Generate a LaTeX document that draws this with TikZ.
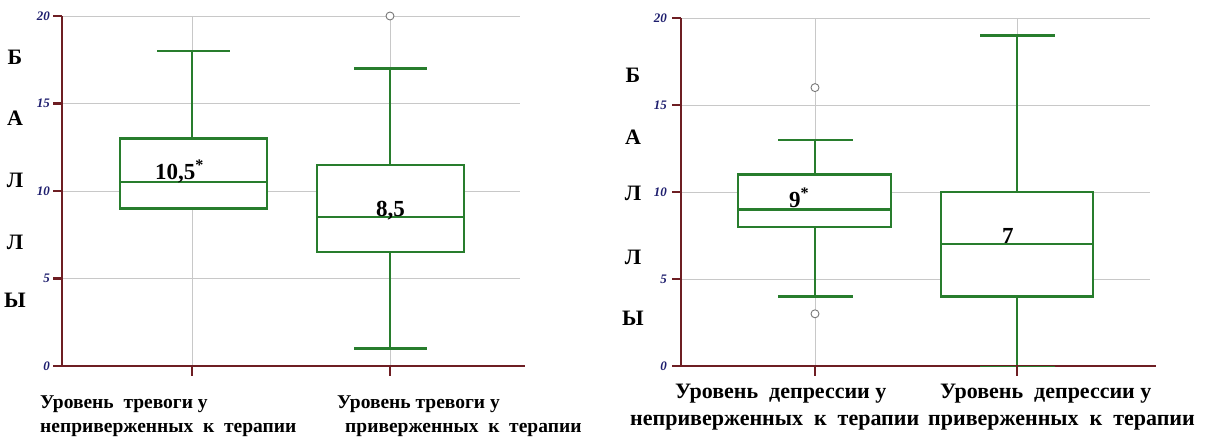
\documentclass[tikz,border=0pt]{standalone}
\usepackage{fontspec}
\setmainfont{Liberation Serif}
\definecolor{axisred}{RGB}{110,30,35}
\definecolor{gridgray}{RGB}{200,200,200}
\definecolor{boxgreen}{RGB}{40,125,45}
\definecolor{ticknavy}{RGB}{30,30,110}
\definecolor{outgray}{RGB}{120,120,120}
\tikzset{
  axisline/.style={axisred, line width=2.8pt},
  gridline/.style={gridgray, line width=1pt},
  boxline/.style={boxgreen, line width=2.4pt},
  boxrect/.style={boxgreen, line width=2.4pt, fill=white},
  ticklab/.style={ticknavy, font=\fontsize{13}{13}\selectfont\bfseries\itshape, anchor=east, inner sep=0pt},
  scalelet/.style={font=\fontsize{22}{22}\selectfont\bfseries, inner sep=0pt},
  medlab/.style={font=\fontsize{23}{23}\selectfont\bfseries, inner sep=0pt, anchor=base west},
  catlab/.style={font=\fontsize{19.5}{19.5}\selectfont\bfseries, inner sep=0pt, anchor=base west},
  catlabR/.style={font=\fontsize{22}{22}\selectfont\bfseries, inner sep=0pt, anchor=base west},
  outlier/.style={draw=outgray, fill=white, line width=0.9pt, circle, minimum size=8pt, inner sep=0pt},
}
\begin{document}
\begin{tikzpicture}[x=1pt,y=1pt]
\useasboundingbox[fill=white] (0,-439) rectangle (1205,0);

% ---------------- left chart ----------------
\begin{scope}[shift={(0pt,-366pt)}, y=17.5pt]
  \foreach \v in {5,10,15,20} \draw[gridline] (62,\v) -- (520,\v);
  \foreach \cx in {192,390} \draw[gridline] (\cx,0) -- (\cx,20);
  % box 1
  \draw[boxline] (192,13) -- (192,18);
  \draw[boxline] (157,18) -- (230,18);
  \draw[boxrect] (120,9) rectangle (267,13);
  \draw[boxline] (120,10.5) -- (267,10.5);
  % box 2
  \draw[boxline] (390,11.5) -- (390,17);
  \draw[boxline] (354,17) -- (427,17);
  \draw[boxline] (390,6.5) -- (390,1);
  \draw[boxline] (354,1) -- (427,1);
  \draw[boxrect] (317,6.5) rectangle (464,11.5);
  \draw[boxline] (317,8.5) -- (464,8.5);
  \node[outlier] (lo1) at (390,20) {};
  % axes
  \draw[axisline] (62,20) -- (62,0) -- (525,0);
  \foreach \v in {0,5,10,15,20} {
    \draw[axisline] (53,\v) -- (62,\v);
    \node[ticklab] (lt\v) at (50,\v) {\v};
  }
  \foreach \cx in {192,390} \draw[axisline] (\cx,0) -- ++(0,-10pt);
  % medians
  \node[medlab] (lm1) at (155,10.5) [yshift=3pt] {10,5\textsuperscript{*}};
  \node[medlab] (lm2) at (376,8.5) [yshift=1pt] {8,5};
\end{scope}

\node[scalelet] (la1) at (15,-57) {Б};
\node[scalelet] (la2) at (15,-118) {А};
\node[scalelet] (la3) at (15,-180) {Л};
\node[scalelet] (la4) at (15,-242) {Л};
\node[scalelet] (la5) at (15,-300) {Ы};

\node[catlab] (lc1) at (40,-408) {Уровень\ \ тревоги у};
\node[catlab] (lc2) at (40,-432) {неприверженных\ \ к\ \ терапии};
\node[catlab] (lc3) at (337,-408) {Уровень тревоги у};
\node[catlab] (lc4) at (345,-432) {приверженных\ \ к\ \ терапии};

% ---------------- right chart ----------------
\begin{scope}[shift={(0pt,-366pt)}, y=17.4pt]
  \foreach \v in {5,10,15,20} \draw[gridline] (681,\v) -- (1150,\v);
  \foreach \cx in {815,1017} \draw[gridline] (\cx,0) -- (\cx,20);
  % box 1
  \draw[boxline] (815,11) -- (815,13);
  \draw[boxline] (778,13) -- (853,13);
  \draw[boxline] (815,8) -- (815,4);
  \draw[boxline] (778,4) -- (853,4);
  \draw[boxrect] (738,8) rectangle (891,11);
  \draw[boxline] (738,9) -- (891,9);
  \node[outlier] (ro1) at (815,16) {};
  \node[outlier] (ro2) at (815,3) {};
  % box 2
  \draw[boxline] (1017,10) -- (1017,19);
  \draw[boxline] (980,19) -- (1055,19);
  \draw[boxline] (1017,4) -- (1017,0);
  \draw[boxrect] (941,4) rectangle (1093,10);
  \draw[boxline] (941,7) -- (1093,7);
  % axes
  \draw[axisline] (681,20) -- (681,0) -- (1156,0);
  \draw[boxgreen, line width=1pt] (980,0) -- (1055,0);
  \foreach \v in {0,5,10,15,20} {
    \draw[axisline] (672,\v) -- (681,\v);
    \node[ticklab] (rt\v) at (667,\v) {\v};
  }
  \foreach \cx in {815,1017} \draw[axisline] (\cx,0) -- ++(0,-10pt);
  % medians
  \node[medlab] (rm1) at (789,9) [yshift=2pt] {9\textsuperscript{*}};
  \node[medlab] (rm2) at (1002,7) [yshift=1pt] {7};
\end{scope}

\node[scalelet] (ra1) at (633,-75) {Б};
\node[scalelet] (ra2) at (633,-137) {А};
\node[scalelet] (ra3) at (633,-193) {Л};
\node[scalelet] (ra4) at (633,-257) {Л};
\node[scalelet] (ra5) at (633,-318) {Ы};

\node[catlabR] (rc1) at (675,-398) {Уровень\ \ депрессии у};
\node[catlabR] (rc2) at (630,-425) {неприверженных\ \ к\ \ терапии};
\node[catlabR] (rc3) at (940,-398) {Уровень\ \ депрессии у};
\node[catlabR] (rc4) at (928,-425) {приверженных\ \ к\ \ терапии};
\end{tikzpicture}
\end{document}
